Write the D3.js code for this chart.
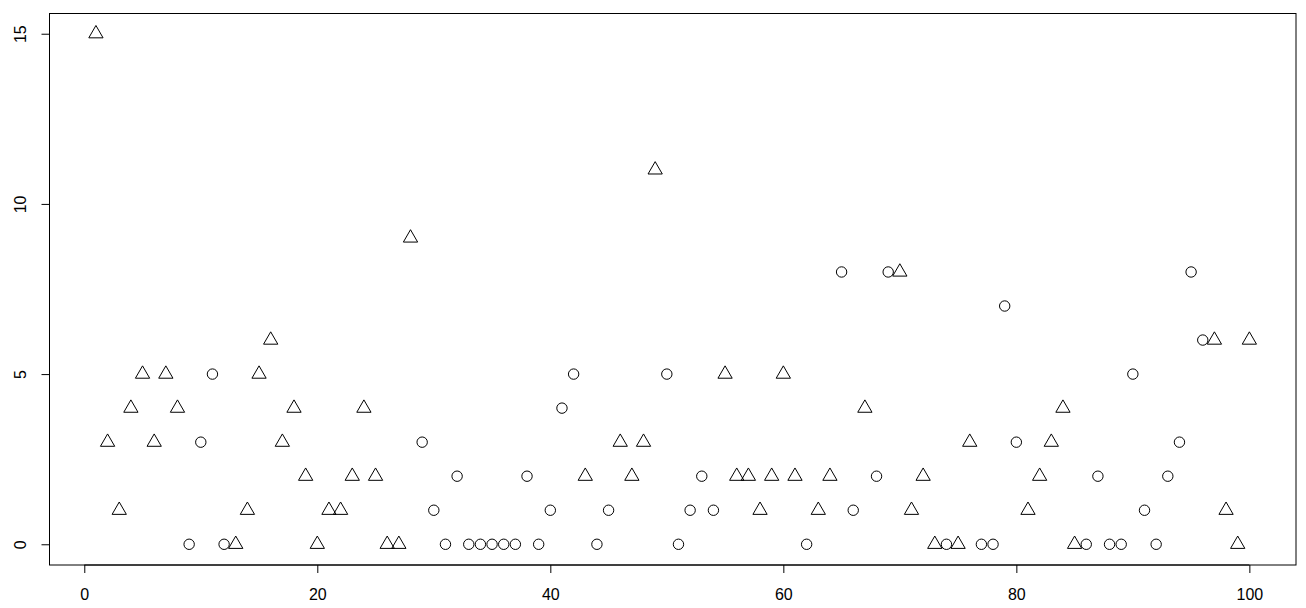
<!DOCTYPE html>
<html>
<head>
<meta charset="utf-8">
<script src="https://cdn.jsdelivr.net/npm/d3@7"></script>
<style>
  body { margin: 0; background: #fff; }
  svg text { font-family: "Liberation Sans", Arial, sans-serif; font-size: 16px; fill: #000; }
</style>
</head>
<body>
<svg id="chart" width="1306" height="608"></svg>
<script>
// Index plot: value per observation, marker shape by group
const values = [
  15, 3, 1, 4, 5, 3, 5, 4, 0, 3,
  5, 0, 0, 1, 5, 6, 3, 4, 2, 0,
  1, 1, 2, 4, 2, 0, 0, 9, 3, 1,
  0, 2, 0, 0, 0, 0, 0, 2, 0, 1,
  4, 5, 2, 0, 1, 3, 2, 3, 11, 5,
  0, 1, 2, 1, 5, 2, 2, 1, 2, 5,
  2, 0, 1, 2, 8, 1, 4, 2, 8, 8,
  1, 2, 0, 0, 0, 3, 0, 0, 7, 3,
  1, 2, 3, 4, 0, 0, 2, 0, 0, 5,
  1, 0, 2, 3, 8, 6, 6, 1, 0, 6
];
// "t" = triangle, "c" = circle
const shapes = (
  "tttttttt" + "cccc" + "tttttttttttttttt" +                 // 1-28
  "cccccccccccccc" + "t" + "cc" + "tttt" +                    // 29-49
  "ccccc" + "ttttttt" + "c" + "tt" + "cc" + "t" + "cc" +      // 50-69
  "tttt" + "c" + "tt" + "cccc" + "ttttt" + "ccccccccccc" + "tttt" // 70-100
).split("");
const xTicks = [0, 20, 40, 60, 80, 100];
const yTicks = [0, 5, 10, 15];

const points = values.map((v, i) => ({ x: i + 1, y: v, shape: shapes[i] }));

const svg = d3.select('#chart');

// R-style 4% extended ranges
const xScale = d3.scaleLinear().domain([-2.96, 103.96]).range([49.8, 1295.5]);
const yScale = d3.scaleLinear().domain([-0.6, 15.6]).range([564.7, 13.3]);

// Points
svg.append('g').selectAll('.pt')
  .data(points)
  .join('path')
  .attr('class', 'pt')
  .attr('d', d => {
    if (d.shape === 't') {
      // R pch 2: up triangle
      const r = 5.3;
      const hw = 1.3468 * r, top = 1.5551 * r, bot = 0.7776 * r;
      return `M0,${-top}L${hw},${bot}L${-hw},${bot}Z`;
    }
    return d3.arc()({ innerRadius: 0, outerRadius: 5.2, startAngle: 0, endAngle: 2 * Math.PI });
  })
  .attr('transform', d => `translate(${xScale(d.x)},${yScale(d.y)})`)
  .attr('fill', 'none')
  .attr('stroke', '#000')
  .attr('stroke-width', 1);

// Axes
const xAxis = d3.axisBottom(xScale).tickValues(xTicks).tickSize(8).tickSizeOuter(0).tickPadding(16);
const xAxisG = svg.append('g').attr('transform', 'translate(0,565)').call(xAxis);
xAxisG.select('.domain')
  .attr('d', `M${xScale(0)},0H${xScale(100)}`);

const yAxis = d3.axisLeft(yScale).tickValues(yTicks).tickSize(8).tickSizeOuter(0);
const yAxisG = svg.append('g').attr('transform', 'translate(49.5,0)').call(yAxis);
yAxisG.select('.domain')
  .attr('d', `M0,${yScale(0)}V${yScale(15)}`);
yAxisG.selectAll('.tick text')
  .attr('transform', 'rotate(-90)')
  .attr('x', 0)
  .attr('y', -23.8)
  .attr('dy', 0)
  .attr('text-anchor', 'middle');

svg.selectAll('.tick line').attr('stroke', '#000');
svg.selectAll('.domain').attr('stroke', '#000');
svg.selectAll('.tick text').attr('font-size', 16).attr('font-family', '"Liberation Sans", Arial, sans-serif');

// Plot box
svg.append('rect')
  .attr('x', 49.5).attr('y', 13.5)
  .attr('width', 1296 - 49.5).attr('height', 565 - 13.5)
  .attr('fill', 'none')
  .attr('stroke', '#000')
  .attr('stroke-width', 1);
</script>
</body>
</html>
